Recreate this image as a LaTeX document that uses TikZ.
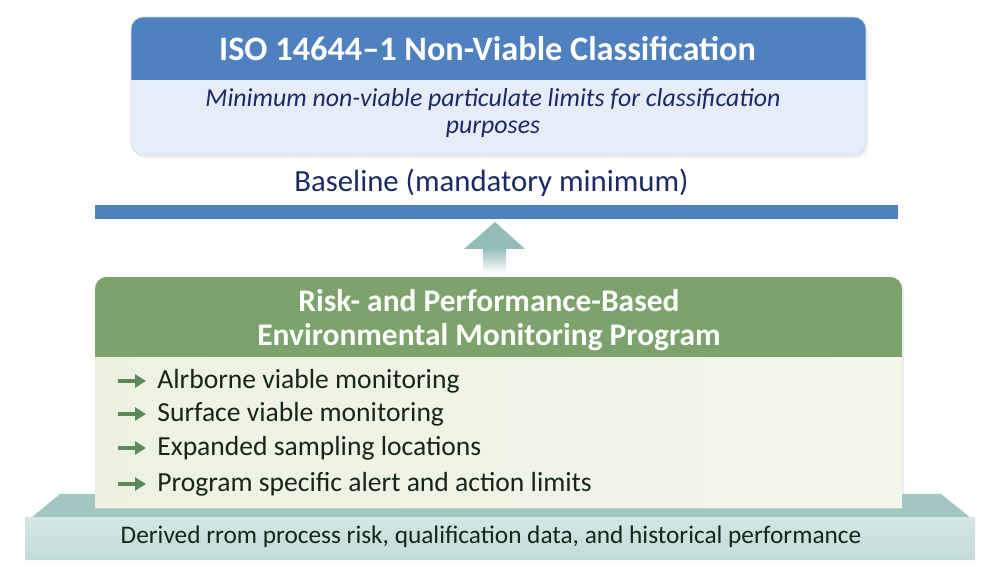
\documentclass[tikz,border=0pt]{standalone}
\usepackage{fontspec}
\setmainfont{Carlito}
\usetikzlibrary{positioning,arrows.meta}

\definecolor{isoblue}{HTML}{4F80BF}
\definecolor{isobody}{HTML}{E7EDF8}
\definecolor{isoline}{HTML}{D3DCEC}
\definecolor{navytext}{HTML}{1B2A66}
\definecolor{barblue}{HTML}{4F81BD}
\definecolor{emgreen}{HTML}{7CA36C}
\definecolor{embodyl}{HTML}{EDF2E0}
\definecolor{embodyr}{HTML}{F3F6EB}
\definecolor{tickgreen}{HTML}{5C8B58}
\definecolor{itemtext}{HTML}{16261A}
\definecolor{slabtop}{HTML}{A2C6C2}
\definecolor{slabfront}{HTML}{D3E6E4}
\definecolor{slabdark}{HTML}{C3DBD8}
\definecolor{uparrow}{HTML}{92BCB7}

\begin{document}
\begin{tikzpicture}[line cap=round,line join=round,x=1cm,y=1cm,
  title/.style={text=white,font=\bfseries\fontsize{19.5}{21}\selectfont,align=center},
  item/.style={anchor=west,text=itemtext,font=\fontsize{15.7}{18}\selectfont,inner sep=0pt},
  tick/.style={-{Triangle[length=2.2mm,width=2.6mm]},line width=1.8pt,draw=tickgreen,line cap=butt}]
\useasboundingbox (0,0) rectangle (20,-11.56);

% ISO classification box
\fill[gray!12,rounded corners=7pt] (2.66,-0.40) rectangle (17.36,-3.16);
\begin{scope}
\clip[rounded corners=7pt] (2.62,-0.34) rectangle (17.32,-3.10);
\fill[isobody] (2.62,-0.34) rectangle (17.32,-3.10);
\fill[isoblue] (2.62,-0.34) rectangle (17.32,-1.60);
\end{scope}
\draw[isoline,rounded corners=7pt] (2.62,-0.34) rectangle (17.32,-3.10);
\node[title] (isotitle) at (9.75,-0.97) {ISO 14644–1 Non-Viable Classification};
\node[text=navytext,font=\itshape\fontsize{14.7}{15.4}\selectfont,align=center] (isonote) at (9.86,-2.27)
  {Minimum non-viable particulate limits for classification\\purposes};

% baseline
\node[text=navytext,font=\fontsize{17.5}{20}\selectfont] (baseline) at (9.83,-3.66) {Baseline (mandatory minimum)};
\fill[barblue] (1.9,-4.10) rectangle (17.96,-4.38);
\coordinate (bar) at (9.9,-4.44);

% arrow up to the baseline
\fill[top color=uparrow,bottom color=white] (9.66,-4.96) rectangle (10.12,-5.46);
\fill[uparrow] (bar) -- (10.5,-4.98) -- (9.28,-4.98) -- cycle;

% monitoring program box
\fill[gray!15,rounded corners=7pt] (1.94,-5.60) rectangle (18.08,-10.22);
\begin{scope}
\clip[rounded corners=7pt] (1.9,-5.54) rectangle (18.04,-10.16);
\fill[left color=embodyl,right color=embodyr] (1.9,-5.54) rectangle (18.04,-10.16);
\fill[emgreen] (1.9,-5.54) rectangle (18.04,-7.14);
\end{scope}
\node[title,font=\bfseries\fontsize{17.9}{19.3}\selectfont] (emtitle) at (9.78,-6.40)
  {Risk- and Performance-Based\\Environmental Monitoring Program};

\node[item] (air) at (3.14,-7.62) {Alrborne viable monitoring};
\node[item] (surf) at (3.14,-8.28) {Surface viable monitoring};
\node[item] (loc) at (3.14,-8.96) {Expanded sampling locations};
\foreach \n in {air,surf,loc}
  \draw[tick] ([xshift=-7.8mm]\n.west) -- ([xshift=-2.2mm]\n.west);

% foundation slab
\fill[slabtop] (0.62,-10.36) -- (1.2,-9.88) -- (18.82,-9.88) -- (19.42,-10.36) -- cycle;
\fill[top color=slabfront,bottom color=slabdark] (0.5,-10.36) rectangle (19.5,-11.2);
\fill[white!85!slabdark] (0.5,-11.2) rectangle (19.5,-11.26);
\fill[left color=embodyl,right color=embodyr] (1.9,-9.6) rectangle (18.04,-10.16);
\node[item] (lim) at (3.14,-9.68) {Program specific alert and action limits};
\draw[tick] ([xshift=-7.8mm]lim.west) -- ([xshift=-2.2mm]lim.west);
\draw[gray!40] (1.9,-10.17) -- (18.04,-10.17);
\node[text=itemtext,font=\fontsize{14.4}{16}\selectfont] (derived) at (9.82,-10.74)
  {Derived rrom process risk, qualification data, and historical performance};
\end{tikzpicture}
\end{document}
